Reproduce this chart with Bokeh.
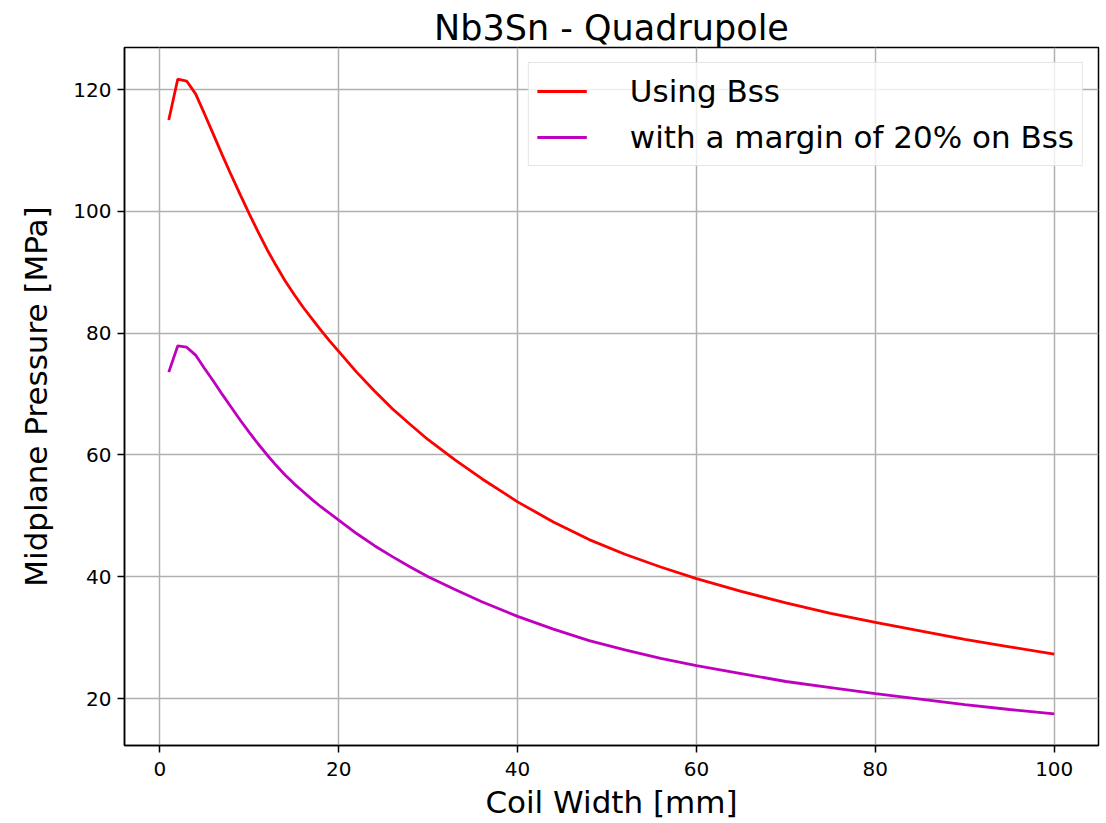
from bokeh.plotting import figure
from bokeh.models import Range1d, FixedTicker, Legend, LegendItem
from bokeh.embed import file_html
from bokeh.resources import INLINE

# Data
coil_width = [1, 2, 3, 4, 5, 6, 7, 8, 9, 10, 11, 12, 13, 14, 15, 16, 17, 18, 19,
              20, 22, 24, 26, 28, 30, 33, 36, 40, 44, 48, 52, 56, 60,
              65, 70, 75, 80, 85, 90, 95, 100]
pressure_bss = [115.0, 121.7, 121.4, 119.3, 116.0, 112.6, 109.2, 105.9, 102.7, 99.6,
                96.6, 93.7, 91.1, 88.6, 86.4, 84.3, 82.4, 80.5, 78.7,
                77.0, 73.6, 70.5, 67.6, 65.0, 62.5, 59.2, 56.1, 52.3, 49.0, 46.1,
                43.7, 41.6, 39.7, 37.6, 35.7, 34.0, 32.5, 31.1, 29.7, 28.5, 27.3]
pressure_margin = [73.6, 77.9, 77.7, 76.4, 74.2, 72.1, 69.9, 67.8, 65.7, 63.7,
                   61.8, 60.0, 58.3, 56.7, 55.3, 54.0, 52.7, 51.5, 50.4,
                   49.3, 47.1, 45.1, 43.3, 41.6, 40.0, 37.9, 35.9, 33.5, 31.4, 29.5,
                   28.0, 26.6, 25.4, 24.1, 22.8, 21.8, 20.8, 19.9, 19.0, 18.2, 17.5]
x_ticks = [0, 20, 40, 60, 80, 100]
y_ticks = [20, 40, 60, 80, 100, 120]
series_labels = ["Using Bss", "with a margin of 20% on Bss"]
title_text = "Nb3Sn - Quadrupole"
x_label = "Coil Width [mm]"
y_label = "Midplane Pressure [MPa]"

FONT = "DejaVu Sans"

p = figure(width=1106, height=823, output_backend="svg", toolbar_location=None,
           x_range=Range1d(-3.95, 104.95), y_range=Range1d(12.29, 126.91),
           min_border_left=124, min_border_right=8, min_border_top=47,
           min_border_bottom=78, title=title_text)

p.title.text_font = FONT
p.title.text_font_size = "35px"
p.title.text_font_style = "normal"
p.title.align = "center"
p.title.text_color = "black"
p.title.standoff = 0
p.title.offset = 0

p.outline_line_color = "black"
p.outline_line_width = 1.5
p.outline_line_alpha = 1.0

for ax, ticks, lab in ((p.xaxis[0], x_ticks, x_label), (p.yaxis[0], y_ticks, y_label)):
    ax.ticker = FixedTicker(ticks=ticks)
    ax.axis_label = lab
    ax.axis_label_text_font = FONT
    ax.axis_label_text_font_size = "31px"
    ax.axis_label_text_font_style = "normal"
    ax.axis_label_text_color = "black"
    ax.major_label_text_font = FONT
    ax.major_label_text_font_size = "20px"
    ax.major_label_text_color = "black"
    ax.major_tick_out = 7
    ax.major_tick_in = 0
    ax.major_tick_line_color = "black"
    ax.major_tick_line_width = 1.5
    ax.minor_tick_line_color = None
    ax.axis_line_color = "black"
    ax.axis_line_width = 1.5

p.xaxis[0].major_label_standoff = 9
p.xaxis[0].axis_label_standoff = 5
p.yaxis[0].major_label_standoff = 6
p.yaxis[0].axis_label_standoff = 16

p.xgrid.ticker = FixedTicker(ticks=x_ticks)
p.ygrid.ticker = FixedTicker(ticks=y_ticks)
for g in (p.xgrid[0], p.ygrid[0]):
    g.grid_line_color = "#b0b0b0"
    g.grid_line_width = 1.5

r1 = p.line(coil_width, pressure_bss, line_color="#ff0000", line_width=2.8)
r2 = p.line(coil_width, pressure_margin, line_color="#bf00bf", line_width=2.8)

legend = Legend(items=[LegendItem(label=series_labels[0], renderers=[r1]),
                       LegendItem(label=series_labels[1], renderers=[r2])],
                location="top_right")
legend.label_text_font = FONT
legend.label_text_font_size = "31px"
legend.label_text_color = "black"
legend.glyph_width = 50
legend.glyph_height = 40
legend.label_height = 40
legend.spacing = 6
legend.padding = 8
legend.margin = 15
legend.label_standoff = 43
legend.border_line_color = "#cccccc"
legend.border_line_width = 1.5
legend.background_fill_alpha = 0.8
p.add_layout(legend)

open("out.html", "w").write(file_html(p, INLINE))
